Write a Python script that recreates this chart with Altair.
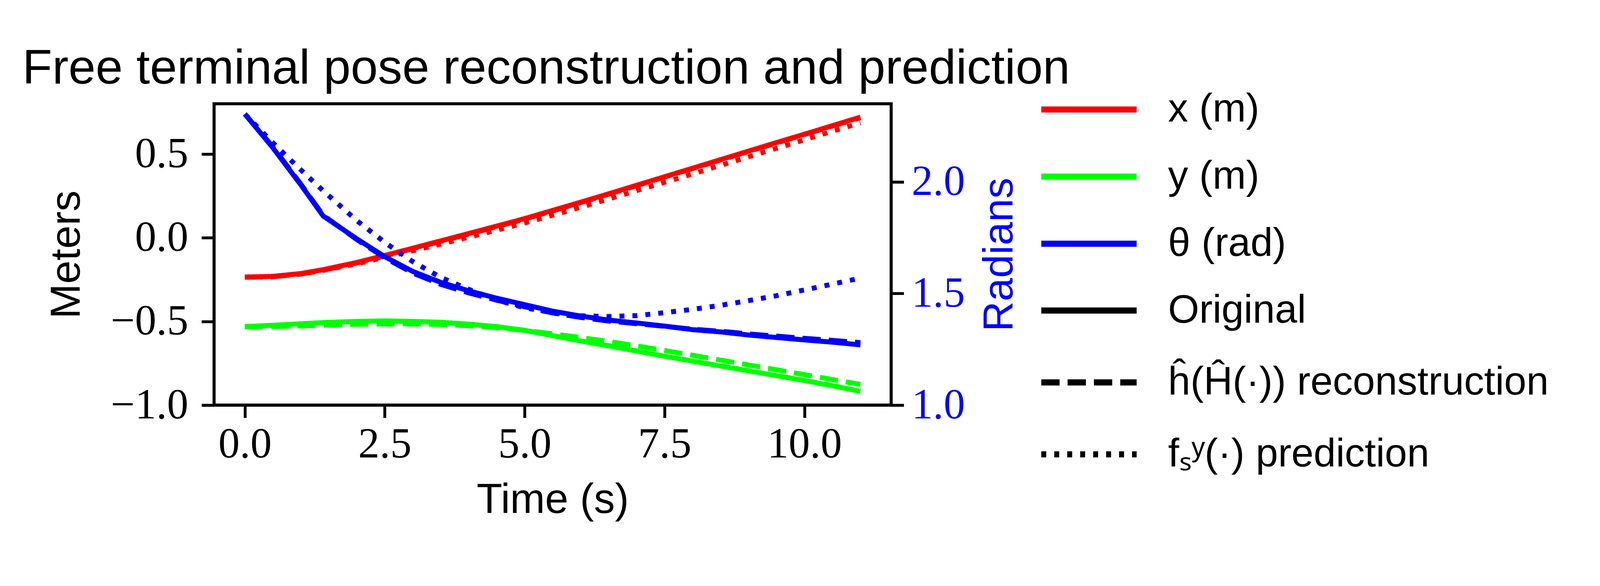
import altair as alt
import pandas as pd

# ---- data ----
time = [0.0, 0.5, 1.0, 1.4, 2.0, 2.5, 3.0, 3.5, 4.0, 4.5, 5.0, 5.5,
        6.0, 6.5, 7.0, 7.5, 8.0, 8.5, 9.0, 9.5, 10.0, 10.5, 11.0]

x_original = [-0.235, -0.231, -0.214, -0.191, -0.148, -0.106, -0.063, -0.019, 0.025, 0.069, 0.114, 0.163,
              0.212, 0.262, 0.313, 0.364, 0.415, 0.466, 0.517, 0.568, 0.618, 0.669, 0.720]
x_reconstruction = [-0.236, -0.233, -0.217, -0.194, -0.151, -0.109, -0.066, -0.022, 0.022, 0.066, 0.111, 0.160,
                    0.210, 0.260, 0.311, 0.362, 0.413, 0.464, 0.515, 0.566, 0.616, 0.667, 0.717]
x_prediction = [-0.235, -0.232, -0.217, -0.195, -0.156, -0.117, -0.078, -0.038, 0.003, 0.045, 0.088, 0.134,
                0.182, 0.231, 0.281, 0.331, 0.381, 0.432, 0.483, 0.534, 0.585, 0.636, 0.686]

y_original = [-0.531, -0.523, -0.514, -0.507, -0.500, -0.497, -0.500, -0.505, -0.516, -0.531, -0.553, -0.585,
              -0.617, -0.646, -0.677, -0.708, -0.737, -0.766, -0.795, -0.824, -0.853, -0.884, -0.918]
y_reconstruction = [-0.533, -0.530, -0.527, -0.523, -0.517, -0.515, -0.515, -0.518, -0.526, -0.537, -0.553, -0.574,
                    -0.596, -0.620, -0.646, -0.674, -0.702, -0.731, -0.760, -0.789, -0.818, -0.847, -0.876]
y_prediction = [-0.531, -0.524, -0.515, -0.508, -0.501, -0.498, -0.501, -0.506, -0.517, -0.532, -0.553, -0.585,
                -0.616, -0.645, -0.676, -0.707, -0.736, -0.765, -0.794, -0.823, -0.852, -0.883, -0.916]

theta_original = [2.304, 2.153, 1.987, 1.847, 1.745, 1.665, 1.599, 1.550, 1.512, 1.479, 1.450, 1.421,
                  1.399, 1.381, 1.368, 1.354, 1.338, 1.328, 1.314, 1.303, 1.292, 1.282, 1.270]
theta_reconstruction = [2.304, 2.157, 1.990, 1.850, 1.742, 1.660, 1.592, 1.541, 1.503, 1.470, 1.441, 1.413,
                        1.393, 1.377, 1.365, 1.353, 1.340, 1.331, 1.319, 1.309, 1.299, 1.290, 1.280]
theta_prediction = [2.304, 2.175, 2.054, 1.960, 1.827, 1.729, 1.643, 1.572, 1.519, 1.471, 1.436, 1.414,
                    1.400, 1.397, 1.401, 1.414, 1.429, 1.447, 1.468, 1.490, 1.516, 1.542, 1.569]

variables = ["x (m)", "y (m)", "θ (rad)"]
styles = ["Original", "ĥ(Ĥ(·)) reconstruction", "fₛʸ(·) prediction"]
colors = ["#ff0000", "#00ff00", "#0000ff"]
dashes = [[1, 0], [48, 21], [13, 21]]

x_ticks = [0.0, 2.5, 5.0, 7.5, 10.0]
left_ticks = [-1.0, -0.5, 0.0, 0.5]
right_ticks = [1.0, 1.5, 2.0]

# drawing order of the series
series = [
    ("x (m)", "Original", x_original),
    ("x (m)", "ĥ(Ĥ(·)) reconstruction", x_reconstruction),
    ("x (m)", "fₛʸ(·) prediction", x_prediction),
    ("y (m)", "fₛʸ(·) prediction", y_prediction),
    ("y (m)", "ĥ(Ĥ(·)) reconstruction", y_reconstruction),
    ("y (m)", "Original", y_original),
    ("θ (rad)", "Original", theta_original),
    ("θ (rad)", "ĥ(Ĥ(·)) reconstruction", theta_reconstruction),
    ("θ (rad)", "fₛʸ(·) prediction", theta_prediction),
]

rows = []
for order, (var, sty, vals) in enumerate(series):
    for t, v in zip(time, vals):
        rows.append({"time": t, "value": v, "variable": var, "style": sty,
                     "side": "right" if var == "θ (rad)" else "left", "order": order})
df = pd.DataFrame(rows)

SERIF = "Liberation Serif"
SANS = "Liberation Sans"

x_enc = alt.X("time:Q",
              scale=alt.Scale(domain=[-0.55, 11.55], nice=False, zero=False),
              axis=alt.Axis(title="Time (s)", values=x_ticks, format=".1f", grid=False, domain=False,
                            tickSize=33, tickWidth=7.5, tickColor="black",
                            labelFont=SERIF, labelFontSize=112, labelColor="black", labelPadding=16,
                            labelLimit=2000,
                            titleFont=SANS, titleFontSize=110, titleFontWeight="normal", titleColor="black",
                            titleY=282, titleBaseline="alphabetic"))

color_enc = alt.Color("variable:N",
                      scale=alt.Scale(domain=variables, range=colors),
                      legend=alt.Legend(title=None, orient="none", legendX=2241, legendY=-37.5,
                                        symbolType="M-5,0H5", symbolSize=2500, symbolStrokeWidth=16,
                                        labelFont=SANS, labelFontSize=105, labelColor="black",
                                        labelOffset=155, labelLimit=3000, rowPadding=70, padding=0))

dash_enc = alt.StrokeDash("style:N",
                          scale=alt.Scale(domain=styles, range=dashes),
                          legend=alt.Legend(title=None, orient="none", legendX=2241, legendY=489.5,
                                            symbolType="M-5,0H5", symbolSize=2500, symbolStrokeWidth=16,
                                            symbolStrokeColor="black",
                                            labelFont=SANS, labelFontSize=105, labelColor="black",
                                            labelOffset=155, labelLimit=3000, rowPadding=82.5, padding=0))

base = alt.Chart(df)

left = base.transform_filter(alt.datum.side == "left").mark_line(strokeWidth=13).encode(
    x=x_enc,
    y=alt.Y("value:Q",
            scale=alt.Scale(domain=[-1.0, 0.8], nice=False, zero=False),
            axis=alt.Axis(title="Meters", orient="left", values=left_ticks, format=".1f", grid=False,
                          domain=False, tickSize=33, tickWidth=7.5, tickColor="black",
                          labelFont=SERIF, labelFontSize=112, labelColor="black", labelPadding=35,
                          labelLimit=2000,
                          titleFont=SANS, titleFontSize=110, titleFontWeight="normal", titleColor="black",
                          titleAngle=270, titleX=-353, titleBaseline="alphabetic")),
    color=color_enc,
    strokeDash=dash_enc,
    order="order:Q",
)

right = base.transform_filter(alt.datum.side == "right").mark_line(strokeWidth=13).encode(
    x=x_enc,
    y=alt.Y("value:Q",
            scale=alt.Scale(domain=[1.0, 2.35], nice=False, zero=False),
            axis=alt.Axis(title="Radians", orient="right", values=right_ticks, format=".1f", grid=False,
                          domain=False, tickSize=33, tickWidth=7.5, tickColor="black",
                          labelFont=SERIF, labelFontSize=112, labelColor="#0000ff", labelPadding=20,
                          labelLimit=2000,
                          titleFont=SANS, titleFontSize=110, titleFontWeight="normal", titleColor="#0000ff",
                          titleAngle=270, titleX=318, titleBaseline="alphabetic")),
    color=color_enc,
    strokeDash=dash_enc,
    order="order:Q",
)

chart = alt.layer(left, right).resolve_scale(y="independent").properties(
    width=1775,
    height=790,
    autosize=alt.AutoSizeParams(type="none"),
    padding={"left": 553, "top": 246, "right": 1850, "bottom": 440},
    background="white",
    title=alt.TitleParams(text="Free terminal pose reconstruction and prediction",
                          font=SANS, fontSize=128, fontWeight="normal", color="black",
                          anchor="middle", frame="group", baseline="alphabetic", offset=49,
                          dy=162, dx=-17),
).configure_view(stroke="black", strokeWidth=8)

chart.save("out.html", embed_options={"renderer": "svg", "actions": False})
